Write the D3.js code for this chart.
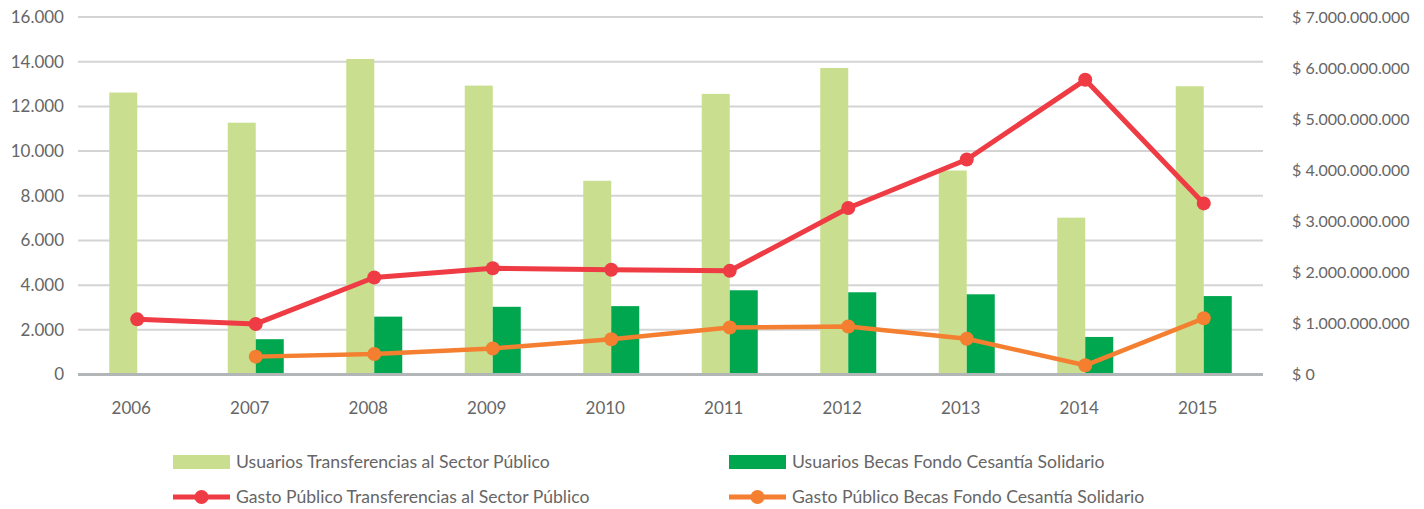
<!DOCTYPE html>
<html>
<head>
<meta charset="utf-8">
<title>Usuarios y Gasto Público</title>
<script src="https://cdn.jsdelivr.net/npm/d3@7"></script>
<style>
  body { margin: 0; background: #fff; }
  text { font-family: Lato, "Open Sans", sans-serif; fill: #666; }
</style>
</head>
<body>
<div id="chart"></div>
<script>
// data
var years = ["2006", "2007", "2008", "2009", "2010", "2011", "2012", "2013", "2014", "2015"];
var usuariosTransf = [12620, 11270, 14120, 12930, 8670, 12560, 13720, 9130, 7020, 12900];
var usuariosBecas = [0, 1580, 2590, 3030, 3060, 3770, 3680, 3590, 1680, 3510];
var gastoTransf = [1.08e9, 0.99e9, 1.90e9, 2.08e9, 2.05e9, 2.03e9, 3.26e9, 4.21e9, 5.77e9, 3.35e9];
var gastoBecas = [null, 0.35e9, 0.40e9, 0.51e9, 0.69e9, 0.92e9, 0.94e9, 0.70e9, 0.18e9, 1.10e9];
var leftTicks = [0, 2000, 4000, 6000, 8000, 10000, 12000, 14000, 16000];
var rightTicks = [0, 1e9, 2e9, 3e9, 4e9, 5e9, 6e9, 7e9];

var width = 1424, height = 509;
var plotLeft = 78, plotRight = 1263, plotTop = 17, plotBottom = 374.5;

var svg = d3.select("#chart").append("svg")
    .attr("width", width)
    .attr("height", height);

var locale = d3.formatLocale({decimal: ",", thousands: ".", grouping: [3], currency: ["$ ", ""]});
var fmt = locale.format(",");

var x = d3.scaleBand().domain(years).range([plotLeft, plotRight]);
var yL = d3.scaleLinear().domain([0, 16000]).range([plotBottom, plotTop]);
var yR = d3.scaleLinear().domain([0, 7e9]).range([plotBottom, plotTop]);
var barW = 28;
var cx = function(d, i) { return x(years[i]) + x.bandwidth() / 2; };

// grid
svg.append("g").selectAll("line")
    .data(leftTicks.slice(1))
    .enter().append("line")
    .attr("x1", plotLeft).attr("x2", plotRight)
    .attr("y1", function(d) { return yL(d); })
    .attr("y2", function(d) { return yL(d); })
    .attr("stroke", "#d4d4d4")
    .attr("stroke-width", 2);

// left axis labels
svg.append("g").selectAll("text")
    .data(leftTicks)
    .enter().append("text")
    .attr("x", 64)
    .attr("y", function(d) { return yL(d); })
    .attr("dy", "0.35em")
    .attr("text-anchor", "end")
    .style("font-size", "17px")
    .text(function(d) { return fmt(d); });

// right axis labels
svg.append("g").selectAll("text")
    .data(rightTicks)
    .enter().append("text")
    .attr("x", 1292)
    .attr("y", function(d) { return yR(d); })
    .attr("dy", "0.35em")
    .style("font-size", "16px")
    .text(function(d) { return "$ " + fmt(d); });

// bars
svg.append("g").selectAll("rect")
    .data(usuariosTransf)
    .enter().append("rect")
    .attr("x", function(d, i) { return cx(d, i) - barW; })
    .attr("y", function(d) { return yL(d); })
    .attr("width", barW)
    .attr("height", function(d) { return plotBottom - yL(d); })
    .attr("fill", "#c9df8f");

svg.append("g").selectAll("rect")
    .data(usuariosBecas)
    .enter().append("rect")
    .attr("x", function(d, i) { return cx(d, i); })
    .attr("y", function(d) { return yL(d); })
    .attr("width", barW)
    .attr("height", function(d) { return plotBottom - yL(d); })
    .attr("fill", "#00a74f");

// baseline
svg.append("line")
    .attr("x1", plotLeft).attr("x2", plotRight)
    .attr("y1", plotBottom).attr("y2", plotBottom)
    .attr("stroke", "#b3b6b6")
    .attr("stroke-width", 3);

// year labels
svg.append("g").selectAll("text")
    .data(years)
    .enter().append("text")
    .attr("x", function(d) { return x(d) + x.bandwidth() / 2 - 6; })
    .attr("y", 408)
    .attr("dy", "0.35em")
    .attr("text-anchor", "middle")
    .style("font-size", "17px")
    .text(function(d) { return d; });

// lines
function drawLine(values, color, w) {
    var line = d3.line()
        .defined(function(d) { return d != null; })
        .x(function(d, i) { return cx(d, i); })
        .y(function(d) { return yR(d); });
    svg.append("path")
        .datum(values)
        .attr("d", line)
        .attr("fill", "none")
        .attr("stroke", color)
        .attr("stroke-width", w)
        .attr("stroke-linejoin", "round");
    svg.append("g").selectAll("circle")
        .data(values.map(function(v, i) { return {v: v, i: i}; }).filter(function(d) { return d.v != null; }))
        .enter().append("circle")
        .attr("cx", function(d) { return cx(d, d.i); })
        .attr("cy", function(d) { return yR(d.v); })
        .attr("r", 7)
        .attr("fill", color);
}
drawLine(gastoTransf, "#ee3b44", 5);
drawLine(gastoBecas, "#f47f31", 4.5);

// legend
var legendItems = [
    {label: "Usuarios Transferencias al Sector Público", type: "rect", color: "#c9df8f", x: 173, y: 462},
    {label: "Usuarios Becas Fondo Cesantía Solidario", type: "rect", color: "#00a74f", x: 729, y: 462},
    {label: "Gasto Público Transferencias al Sector Público", type: "line", color: "#ee3b44", x: 173, y: 497},
    {label: "Gasto Público Becas Fondo Cesantía Solidario", type: "line", color: "#f47f31", x: 729, y: 497}
];
var legend = svg.append("g");
legendItems.forEach(function(d) {
    if (d.type == "rect") {
        legend.append("rect")
            .attr("x", d.x).attr("y", d.y - 7)
            .attr("width", 57).attr("height", 14)
            .attr("fill", d.color);
    } else {
        legend.append("line")
            .attr("x1", d.x).attr("x2", d.x + 57)
            .attr("y1", d.y).attr("y2", d.y)
            .attr("stroke", d.color).attr("stroke-width", 5);
        legend.append("circle")
            .attr("cx", d.x + 28.5).attr("cy", d.y)
            .attr("r", 7).attr("fill", d.color);
    }
    legend.append("text")
        .attr("x", d.x + 63)
        .attr("y", d.y)
        .attr("dy", "0.35em")
        .style("font-size", "17.6px")
        .text(d.label);
});
</script>
</body>
</html>
